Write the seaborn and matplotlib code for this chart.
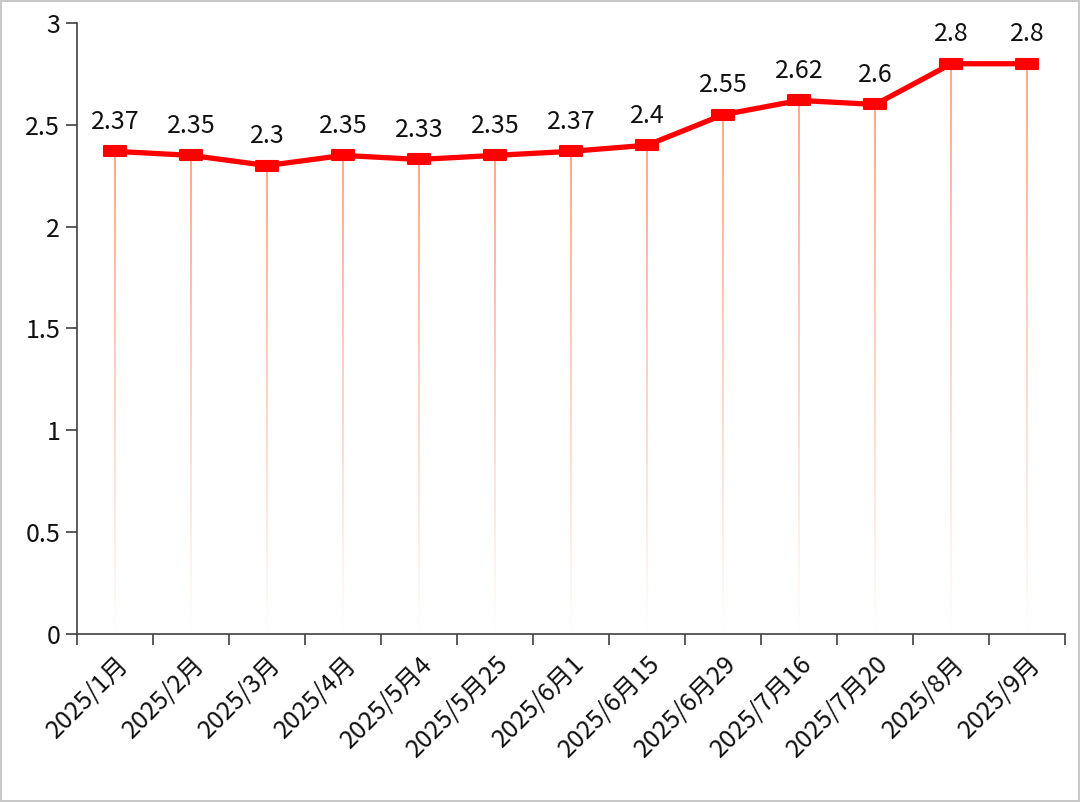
import numpy as np
import pandas as pd
import matplotlib.pyplot as plt
import seaborn as sns
from matplotlib.path import Path as MPath

sns.set_theme(style="white")
plt.rcParams["font.family"] = ["Noto Sans CJK SC", "DejaVu Sans"]

dates = ["2025/1月", "2025/2月", "2025/3月", "2025/4月", "2025/5月4", "2025/5月25",
         "2025/6月1", "2025/6月15", "2025/6月29", "2025/7月16", "2025/7月20",
         "2025/8月", "2025/9月"]
values = [2.37, 2.35, 2.3, 2.35, 2.33, 2.35, 2.37, 2.4, 2.55, 2.62, 2.6, 2.8, 2.8]
y_ticks = [0, 0.5, 1, 1.5, 2, 2.5, 3]
y_tick_labels = ["0", "0.5", "1", "1.5", "2", "2.5", "3"]

df = pd.DataFrame({"date": dates, "value": values})
df["pos"] = np.arange(len(df))

fig = plt.figure(figsize=(10.8, 8.02), dpi=100)
fig.patch.set_edgecolor("#c8c8c8")
fig.patch.set_linewidth(1.5)
ax = fig.add_axes([0.0713, 0.2095, 0.9152, 0.7618])

# drop lines fading out toward the axis
n_steps = 80
for x, v in zip(df["pos"], df["value"]):
    edges = np.linspace(0, v, n_steps + 1)
    for i in range(n_steps):
        a = (i + 1) / n_steps
        ax.plot([x, x], [edges[i], edges[i + 1]], color="#ff8a5c",
                alpha=a * 0.95, linewidth=1.1, solid_capstyle="butt", zorder=1)

# flat rounded rectangle marker
rect = MPath([(-1.1, -0.45), (1.1, -0.45), (1.1, 0.45), (-1.1, 0.45), (-1.1, -0.45)],
             [MPath.MOVETO, MPath.LINETO, MPath.LINETO, MPath.LINETO, MPath.CLOSEPOLY])

sns.lineplot(data=df, x="pos", y="value", color="#ff0000", linewidth=3.8,
             marker=rect, markersize=16, markeredgewidth=1.5,
             markeredgecolor="#ff0000", markerfacecolor="#ff0000", ax=ax, zorder=3)

for x, v in zip(df["pos"], df["value"]):
    ax.annotate(f"{v:g}", (x, v), xytext=(0, 12), textcoords="offset points",
                ha="center", va="bottom", fontsize=18, color="#111111")

ax.set_xlim(-0.5, len(df) - 0.5)
ax.set_ylim(0, 3)
ax.set_yticks(y_ticks)
ax.set_yticklabels(y_tick_labels, fontsize=18, color="#111111")
ax.set_xticks(df["pos"])
ax.set_xticklabels(df["date"], rotation=45, ha="right", rotation_mode="anchor",
                   fontsize=18, color="#111111")
ax.set_xticks(np.arange(-0.5, len(df), 1), minor=True)
ax.tick_params(axis="x", which="major", length=0, pad=12)
ax.tick_params(axis="x", which="minor", length=8, width=1.2, color="#404040", bottom=True)
ax.tick_params(axis="y", length=8, width=1.2, color="#404040", left=True, pad=4)
ax.set_xlabel("")
ax.set_ylabel("")
ax.grid(False)
sns.despine(ax=ax)
for s in ["left", "bottom"]:
    ax.spines[s].set_color("#404040")
    ax.spines[s].set_linewidth(1.2)

fig.savefig("out.png", dpi=100, edgecolor=fig.get_edgecolor())
